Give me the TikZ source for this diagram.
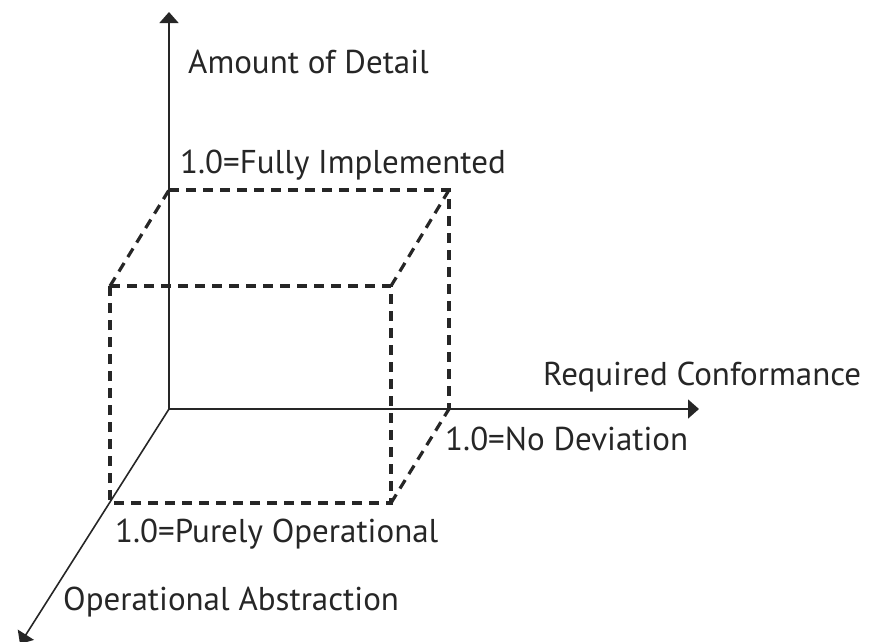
\documentclass[tikz,border=0pt]{standalone}
\usepackage{fontspec}
\setmainfont{PT Sans}
\usetikzlibrary{arrows.meta}

\begin{document}
\begin{tikzpicture}[
  x=1pt, y=-1pt,
  >={Triangle[length=11pt,width=19pt]},
  axis/.style={->, line width=1.6pt, draw=black!85},
  cubeline/.style={line width=3.2pt, draw=black!85, dash pattern=on 10pt off 7pt},
  axislabel/.style={anchor=base west, inner sep=0pt, text=black!85,
    font=\fontsize{33}{38}\selectfont},
]
  \useasboundingbox (0,0) rectangle (876,641);

  % axes
  \coordinate (o)     at (169,409);
  \coordinate (up)    at (169,12);
  \coordinate (right) at (699,409);
  \coordinate (down)  at (20,644);

  % cube corners (back face on the axes, front face shifted)
  \coordinate (b1) at (169,190);
  \coordinate (b2) at (449,190);
  \coordinate (b3) at (449,409);
  \coordinate (f1) at (110,286);
  \coordinate (f2) at (391,286);
  \coordinate (f3) at (391,503);
  \coordinate (f4) at (110,503);

  \draw[axis] (o) -- (up);
  \draw[axis] (o) -- (right);
  \draw[axis] (o) -- (down);

  \draw[cubeline] (b1) -- (b2) -- (b3);
  \draw[cubeline] (f1) -- (f2) -- (f3) -- (f4) -- cycle;
  \draw[cubeline] (f1) -- (b1);
  \draw[cubeline] (f2) -- (b2);
  \draw[cubeline] (f3) -- (b3);

  \node[axislabel] (detail) at (188,73)  {Amount of Detail};
  \node[axislabel] (full)   at (180,173) {1.0=Fully Implemented};
  \node[axislabel] (conf)   at (543,385) {Required Conformance};
  \node[axislabel] (nodev)  at (445,450) {1.0=No Deviation};
  \node[axislabel] (pure)   at (115,542) {1.0=Purely Operational};
  \node[axislabel] (abstr)  at (63,610)  {Operational Abstraction};
\end{tikzpicture}
\end{document}
